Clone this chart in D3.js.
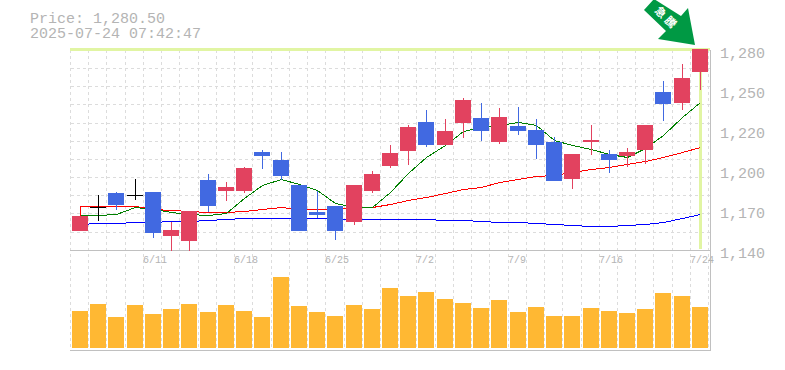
<!DOCTYPE html>
<html><head><meta charset="utf-8">
<style>html,body{margin:0;padding:0;background:#fff}svg{display:block}</style>
<script src="https://cdnjs.cloudflare.com/ajax/libs/d3/7.8.5/d3.min.js"></script>
</head><body><svg id="c" width="785" height="370"></svg>
<script>
const dates=["6/5","6/6","6/9","6/10","6/11","6/12","6/13","6/16","6/17","6/18","6/19","6/20","6/23","6/24","6/25","6/26","6/27","6/30","7/1","7/2","7/3","7/4","7/7","7/8","7/9","7/10","7/11","7/14","7/15","7/16","7/17","7/18","7/22","7/23","7/24"];
const labelledDates=["6/11","6/18","6/25","7/2","7/9","7/16","7/24"];
const priceTicks=[1280,1252,1224,1196,1168,1140];
const priceTickLabels=["1,280","1,250","1,220","1,200","1,170","1,140"];
const open =[1153.3,1170.1,1179.9,1178.5,1180.6,1149.8,1146.3,1189,1181.3,1181.3,1208.6,1203,1185.5,1166.6,1170.8,1159.6,1181.3,1198.8,1209.3,1229.6,1213.5,1228.9,1232.4,1215.6,1226.8,1224,1215.6,1189.7,1215.6,1207.2,1205.8,1210,1250.6,1242.9,1264.6];
const close=[1163.8,1170.1,1171.5,1178.5,1151.9,1154,1167.3,1170.8,1184.1,1197.4,1205.8,1191.8,1153.3,1164.5,1153.3,1185.5,1193.2,1207.9,1226.1,1213.5,1223.3,1245,1223.3,1233.1,1223.3,1213.5,1188.3,1207.2,1217,1203,1208.6,1227.5,1242.2,1260.4,1280.5];
const high =[1163.8,1178.5,1180.6,1189.7,1180.6,1159.6,1167.3,1193.2,1187.6,1198.1,1210,1208.6,1185.5,1181.3,1170.8,1185.5,1195.3,1213.5,1227.5,1238,1231.7,1246.4,1242.9,1239.4,1240.1,1231.7,1219.1,1207.2,1227.5,1210,1211.4,1227.5,1258.3,1270.2,1280.5];
const low  =[1153.3,1160.3,1168,1175,1148.4,1139.3,1139.3,1166.6,1174.3,1179.9,1196.7,1189,1153.3,1162.4,1147,1157.5,1179.9,1197.4,1199.5,1212.1,1213.5,1218.4,1216.3,1214.2,1220.5,1203.7,1188.3,1182.7,1206.5,1193.9,1198.1,1200.2,1230.3,1238,1252];
const ma5=[1164.3,1164.5,1164.9,1170.1,1168.7,1166.6,1165.2,1164.5,1165.9,1176.4,1185.5,1189.7,1186.2,1182,1172.9,1170.1,1170.1,1180.6,1193.9,1205.1,1213.5,1223.3,1226.1,1227.5,1229.6,1227.5,1217,1213.5,1210.7,1207.2,1205.1,1211.4,1220.5,1233.1,1243.6];
const ma25Start=1164.5;
const ma25=[1171.1,1171.1,1171.1,1170.8,1168.7,1168,1167.3,1166.6,1166.6,1167.3,1168.7,1170.1,1168.7,1168.4,1168.4,1169.8,1170.1,1172.4,1175,1177.1,1179.9,1182.7,1184.1,1187.6,1189.7,1191.8,1192.5,1194.3,1196.7,1198.1,1200.2,1202.3,1205.1,1208.6,1212.1];
const ma75=[1158.4,1158.7,1158.7,1159.4,1159.4,1160.3,1160.5,1161,1161.7,1162.4,1162.6,1162.6,1162.6,1162.2,1161.5,1161.5,1161.5,1161.5,1161.5,1161.5,1160.8,1160.8,1160.1,1159.4,1159.4,1158.7,1158,1157.3,1157,1157,1157.5,1158.4,1159.6,1162.1,1164.9];
const volume=[37,44,31,43,34,39,44,36,43,37,31,71,42,36,32,43,39,60,52,56,49,45,40,48,36,41,32,32,40,37,35,39,55,52,41];
const volumeMax=98;

const L=70.5,T=50,PB=250,VB=348,R=708.7;
const svg=d3.select("#c");
const x=d3.scaleBand().domain(dates).range([L,R]);
const y=d3.scaleLinear().domain([1140,1280]).range([PB,T]);
const yv=d3.scaleLinear().domain([0,volumeMax]).range([VB,PB]);
const px=d=>Math.floor(x(d));
const GRID="#dcdcdc",AXIS="#c0c0c0",TXT="#b4b4b4";

const g=svg.append("g").attr("shape-rendering","crispEdges");
dates.concat(["_"]).forEach(d=>{
  const xx=d==="_"?Math.floor(R):px(d);
  g.append("line").attr("x1",xx+.5).attr("x2",xx+.5).attr("y1",T).attr("y2",349)
   .attr("stroke",GRID).attr("stroke-dasharray","3,3");
});
d3.range(1,11).forEach(i=>{
  const yy=Math.round(T+i*18.15)+.5;
  g.append("line").attr("x1",L).attr("x2",R+1).attr("y1",yy).attr("y2",yy)
   .attr("stroke",GRID).attr("stroke-dasharray","3,3");
});
g.selectAll(".v").data(volume).join("rect")
 .attr("x",(d,i)=>px(dates[i])+2).attr("width",16)
 .attr("y",d=>Math.round(yv(d))).attr("height",d=>VB-Math.round(yv(d))).attr("fill","#ffb833");
const HL="#e1f5a3";
g.append("rect").attr("x",L-.5).attr("y",48).attr("width",640).attr("height",3).attr("fill",HL);
g.append("rect").attr("x",px("7/24")+9).attr("y",50).attr("width",3).attr("height",199).attr("fill",HL);
[[L-.5,250.5,710.5,250.5],[710.5,50,710.5,350.5],[L-.5,350.5,710.5,350.5]].forEach(a=>
  g.append("line").attr("x1",a[0]).attr("y1",a[1]).attr("x2",a[2]).attr("y2",a[3]).attr("stroke",AXIS));
const line=d3.line().x((d,i)=>px(dates[i])+10.5).y(d=>Math.round(y(d))+.5);
const addLine=(d,c)=>svg.append("path").attr("d",d).attr("fill","none").attr("stroke",c).attr("stroke-width",1).attr("shape-rendering","crispEdges");
addLine(line(ma75),"#0000ff");
addLine("M"+(px(dates[0])+10.5)+","+(Math.round(y(ma25Start))+.5)+"L"+line(ma25).slice(1),"#ff0000");
addLine(line(ma5),"#008000");
const UP="#e2425f",DN="#4169e1";
const cg=svg.append("g").attr("shape-rendering","crispEdges");
dates.forEach((d,i)=>{
  const c=open[i]===close[i]?"#000":(close[i]>open[i]?UP:DN);
  const cx=px(d)+10;
  const h=Math.round(y(high[i])),l=Math.round(y(low[i]));
  cg.append("rect").attr("x",cx).attr("width",1).attr("y",h).attr("height",Math.max(1,l-h)).attr("fill",c);
  const t=Math.round(y(Math.max(open[i],close[i]))),b=Math.round(y(Math.min(open[i],close[i])));
  cg.append("rect").attr("x",cx-8).attr("width",16).attr("y",t).attr("height",Math.max(1,b-t)).attr("fill",c);
});
const mono="'Liberation Mono',monospace";
priceTicks.forEach((v,i)=>svg.append("text").attr("x",720).attr("y",y(v)+8).attr("font-family",mono).attr("font-size",15).attr("fill",TXT).text(priceTickLabels[i]));
labelledDates.forEach(d=>svg.append("text").attr("x",px(d)).attr("y",263).attr("font-family",mono).attr("font-size",10).attr("fill",TXT).text(d));
svg.append("text").attr("x",30).attr("y",23).attr("font-family",mono).attr("font-size",15).attr("fill",TXT).text("Price: 1,280.50");
svg.append("text").attr("x",30).attr("y",38).attr("font-family",mono).attr("font-size",15).attr("fill",TXT).text("2025-07-24 07:42:47");
svg.append("path").attr("d","M644,10 L654,-1 L681,16 L688,8 L695,45 L658,39 L666,31 Z").attr("fill","#009944");
svg.append("text").attr("transform","translate(666,19) rotate(45)").attr("text-anchor","middle").attr("dominant-baseline","middle").attr("font-family","'Noto Sans CJK JP'").attr("font-weight",700).attr("font-size",11).attr("letter-spacing",3).attr("fill","#fff").text("急騰");
</script></body></html>
